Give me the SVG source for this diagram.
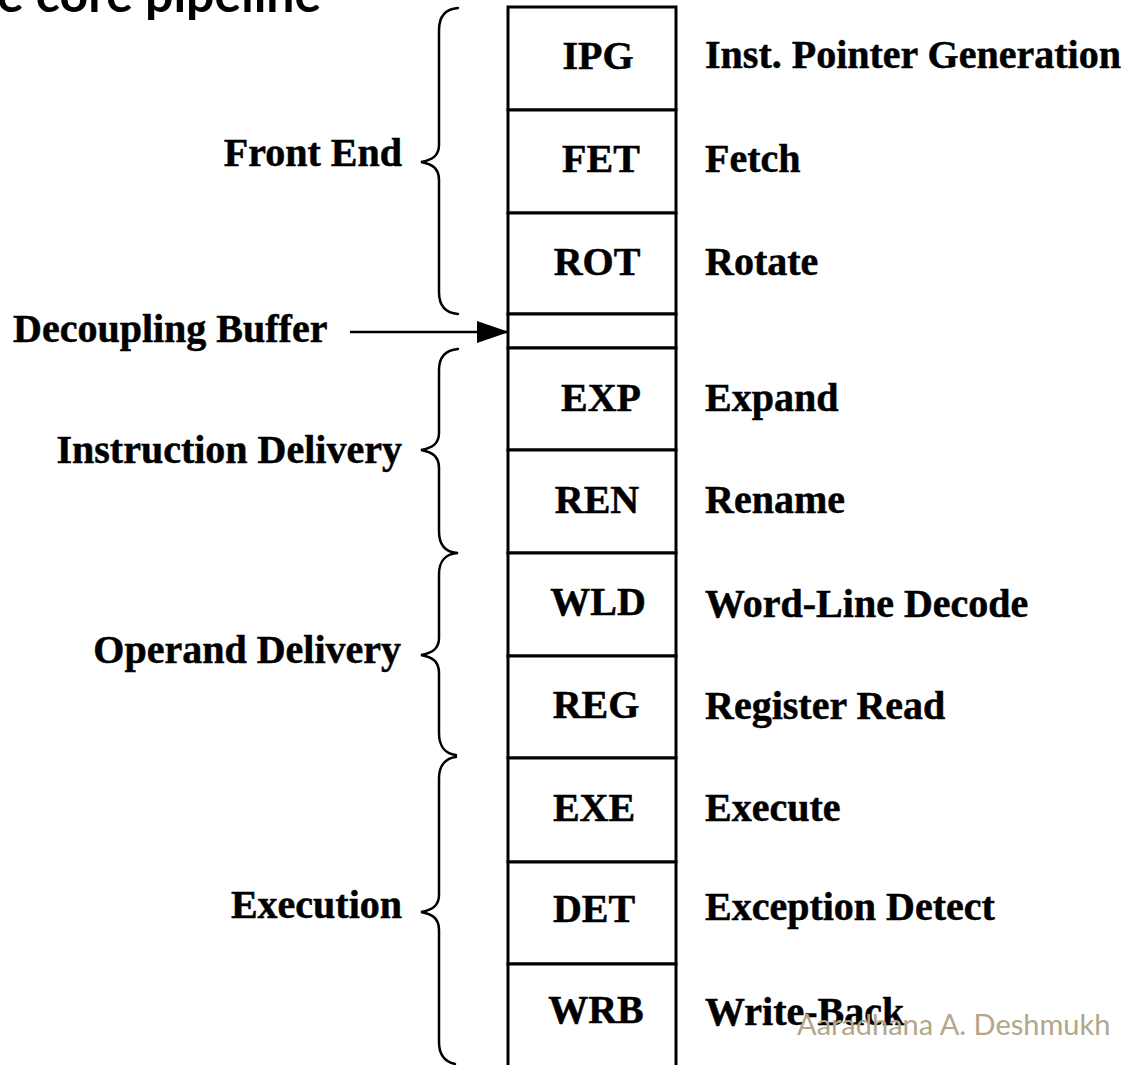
<svg xmlns="http://www.w3.org/2000/svg" width="1131" height="1065" viewBox="0 0 1131 1065">
<style>
.st{fill:#fff;stroke:#000;stroke-width:3}
.lb{font-family:"Liberation Serif","Times New Roman",serif;font-weight:bold;font-size:40px;fill:#000;stroke:#000;stroke-width:0.5}
.c{text-anchor:middle}
.e{text-anchor:end}
.br{fill:none;stroke:#000;stroke-width:2.5;stroke-linecap:round}
.title{font-family:Lato,"Open Sans",sans-serif;font-weight:bold;font-size:50px;fill:#000}
.auth{font-family:Lato,"Open Sans",sans-serif;font-size:29px;fill:#b3a68a}
</style>
<defs>
<marker id="ah" markerWidth="32" markerHeight="22" refX="31" refY="11" orient="auto" markerUnits="userSpaceOnUse">
<path d="M0,0 L32,11 L0,22 Z" fill="#000"/>
</marker>
</defs>
<rect width="1131" height="1065" fill="#fff"/>
<text class="title" x="-3" y="12">e core pipeline</text>

<g id="stage-ipg"><rect class="st" x="508" y="7" width="168" height="103"/><text class="lb c" x="598" y="69">IPG</text><text class="lb" x="705" y="68">Inst. Pointer Generation</text></g>
<g id="stage-fet"><rect class="st" x="508" y="110" width="168" height="103"/><text class="lb c" x="601" y="172">FET</text><text class="lb" x="705" y="172">Fetch</text></g>
<g id="stage-rot"><rect class="st" x="508" y="213" width="168" height="101"/><text class="lb c" x="597" y="275">ROT</text><text class="lb" x="705" y="275">Rotate</text></g>
<g id="decoupling-buffer"><rect class="st" x="508" y="314" width="168" height="34"/><text class="lb" x="13" y="342">Decoupling Buffer</text></g>
<g id="stage-exp"><rect class="st" x="508" y="348" width="168" height="102"/><text class="lb c" x="601" y="411">EXP</text><text class="lb" x="705" y="411">Expand</text></g>
<g id="stage-ren"><rect class="st" x="508" y="450" width="168" height="103"/><text class="lb c" x="597" y="513">REN</text><text class="lb" x="705" y="513">Rename</text></g>
<g id="stage-wld"><rect class="st" x="508" y="553" width="168" height="103"/><text class="lb c" x="598" y="615">WLD</text><text class="lb" x="705" y="617">Word-Line Decode</text></g>
<g id="stage-reg"><rect class="st" x="508" y="656" width="168" height="102"/><text class="lb c" x="596" y="718">REG</text><text class="lb" x="705" y="719">Register Read</text></g>
<g id="stage-exe"><rect class="st" x="508" y="758" width="168" height="104"/><text class="lb c" x="594" y="821">EXE</text><text class="lb" x="705" y="821">Execute</text></g>
<g id="stage-det"><rect class="st" x="508" y="862" width="168" height="102"/><text class="lb c" x="594" y="922">DET</text><text class="lb" x="705" y="920">Exception Detect</text></g>
<g id="stage-wrb"><rect class="st" x="508" y="964" width="168" height="110"/><text class="lb c" x="596" y="1023">WRB</text><text class="lb" x="705" y="1025">Write-Back</text></g>

<g id="group-front-end"><path class="br" d="M458,8 C446,9 439,16 439,30 L439,145 C439,156 432,160 421,162 C432,164 439,168 439,180 L439,292 C439,306 446,313 458,314"/><text class="lb e" x="402" y="166">Front End</text></g>
<g id="group-instruction-delivery"><path class="br" d="M458,349 C446,350 439,357 439,370 L439,433 C439,444 432,448 421,450 C432,452 439,456 439,468 L439,531 C439,545 446,552 457,553"/><text class="lb e" x="402" y="463">Instruction Delivery</text></g>
<g id="group-operand-delivery"><path class="br" d="M457,553 C446,554 439,561 439,574 L439,638 C439,649 432,653 421,655 C432,657 439,661 439,673 L439,733 C439,747 446,754 456,755"/><text class="lb e" x="401" y="663">Operand Delivery</text></g>
<g id="group-execution"><path class="br" d="M456,757 C446,758 439,765 439,778 L439,895 C439,906 432,910 421,912 C432,914 439,918 439,930 L439,1042 C439,1056 446,1062 455,1064"/><text class="lb e" x="402" y="918">Execution</text></g>

<g id="connectors"><line x1="350" y1="332" x2="508" y2="332" stroke="#000" stroke-width="2.5" marker-end="url(#ah)"/></g>

<text class="auth" x="797" y="1035">Aaradhana A. Deshmukh</text>
</svg>
